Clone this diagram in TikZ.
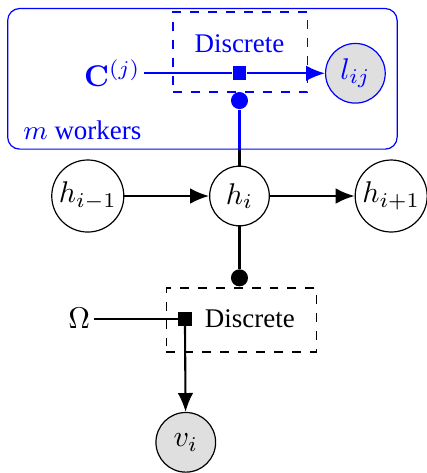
\documentclass[tikz,border=0pt]{standalone}
\usepackage[no-math]{fontspec}
\setmainfont{Liberation Serif}
\usepackage{amsmath}
\usetikzlibrary{arrows.meta}

\begin{document}
\begin{tikzpicture}[>={Latex[length=6.3pt,width=5.2pt]},
    latent/.style={circle, draw, minimum size=0.7cm, inner sep=1pt},
    obs/.style={latent, fill=gray!25},
    factor/.style={rectangle, fill, minimum size=0.16cm, inner sep=0pt},
    gate/.style={circle, fill, minimum size=0.2cm, inner sep=0pt},
    dashbox/.style={draw, dashed, inner sep=0pt},
    edge/.style={line width=0.7pt}]
    \useasboundingbox (-2.81,-3.25) rectangle (2.19,2.30);

    % hidden chain
    \node[latent] (hprev) at (-1.78,0) {$h_{i-1}$};
    \node[latent] (h) at (0,0) {$h_i$};
    \node[latent] (hnext) at (1.78,0) {$h_{i+1}$};
    \draw[edge, ->] (hprev) -- (h);
    \draw[edge, ->] (h) -- (hnext);

    % workers plate
    \node[draw=blue, rounded corners=4pt, minimum width=4.57cm, minimum height=1.65cm] (plate) at (-0.435,1.375) {};
    \node[blue, anchor=west, font=\small] (mlabel) at (-2.66,0.77) {$m$ workers};
    \node[blue, dashbox, minimum width=1.58cm, minimum height=0.94cm] (boxup) at (0.01,1.69) {};
    \node[blue, font=\small] (discup) at (0,1.79) {Discrete};
    \node[blue, factor] (facup) at (0,1.44) {};
    \node[blue, anchor=east, inner sep=1pt] (cj) at (-1.12,1.44) {$\mathbf{C}^{(j)}$};
    \node[obs, draw=blue, text=blue] (l) at (1.36,1.44) {$l_{ij}$};
    \node[blue, gate] (gup) at (0,1.12) {};
    \draw[edge, blue] (cj) -- (facup);
    \draw[edge, blue, ->] (facup) -- (l);
    \draw[edge, blue] (gup) -- (gup |- plate.south);
    \draw[edge] (h) -- (h |- plate.south);

    % emission
    \node[dashbox, minimum width=1.76cm, minimum height=0.75cm] (boxdown) at (0.02,-1.455) {};
    \node[factor] (facdown) at (-0.64,-1.44) {};
    \node[anchor=west, font=\small] (discdown) at (-0.53,-1.44) {Discrete};
    \node[gate] (gdown) at (0,-0.96) {};
    \node[inner sep=1pt] (omega) at (-1.88,-1.44) {$\Omega$};
    \node[obs] (v) at (-0.63,-2.89) {$v_i$};
    \draw[edge] (h) -- (gdown);
    \draw[edge] (omega) -- (facdown);
    \draw[edge, ->] (facdown) -- (v);

\end{tikzpicture}
\end{document}
